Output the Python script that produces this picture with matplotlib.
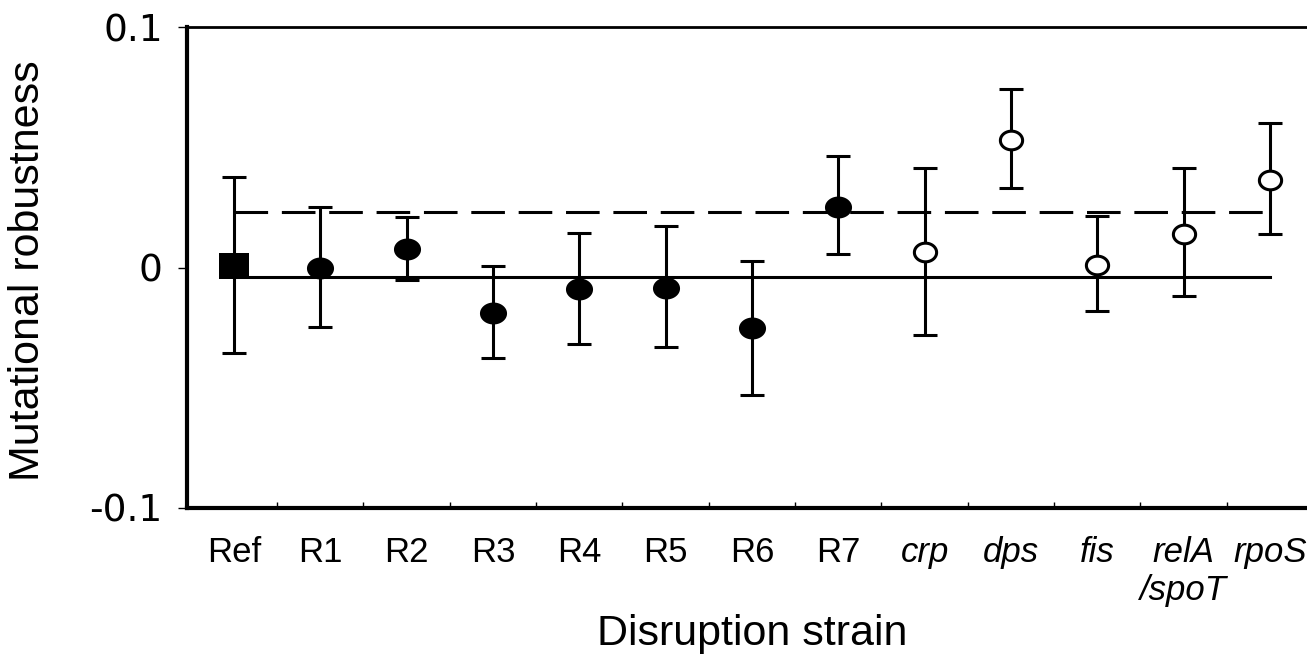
import numpy as np
from matplotlib import pyplot as plt
from matplotlib import rcParams
from matplotlib.path import Path

rcParams.update({
  'font.family': 'Liberation Sans',
  'axes.linewidth': 3,
  'axes.spines.right': False,
})

strains = ['Ref', 'R1', 'R2', 'R3', 'R4', 'R5', 'R6', 'R7',
           'crp', 'dps', 'fis', 'relA\n/spoT', 'rpoS']
groups = ['ref'] + ['random'] * 7 + ['gene'] * 5
robustness = [0.0005, -0.0004, 0.0075, -0.0188, -0.0091, -0.0084, -0.0253,
              0.0252, 0.0064, 0.0532, 0.0012, 0.0141, 0.0363]
upper = [0.0376, 0.0252, 0.0210, 0.0008, 0.0144, 0.0171, 0.0026,
         0.0463, 0.0413, 0.0743, 0.0213, 0.0415, 0.0599]
lower = [-0.0354, -0.0246, -0.0050, -0.0378, -0.0317, -0.0331, -0.0530,
         0.0058, -0.0280, 0.0330, -0.0179, -0.0119, 0.0141]
baseline = -0.004      # solid reference line
threshold = 0.023      # dashed line
y_ticks = [-0.1, 0, 0.1]
y_labels = ['-0.1', '0', '0.1']


def ellipse(ratio):
  t = np.linspace(0, 2 * np.pi, 80)
  return Path(np.column_stack([np.cos(t), ratio * np.sin(t)]), closed=True)


def box(ratio):
  return Path([(-1, -ratio), (1, -ratio), (1, ratio), (-1, ratio), (-1, -ratio)], closed=True)


x = np.arange(len(strains))
y = np.array(robustness)
yerr = [y - np.array(lower), np.array(upper) - y]

fig = plt.figure(figsize=(13.07, 6.55), dpi=100)
ax = fig.add_axes([187 / 1307, 147 / 655, 1 - 187 / 1307, 481 / 655])

ax.plot([x[0], x[-1]], [baseline, baseline], color='black', lw=2.2, zorder=1)
ax.plot([x[0], x[-1]], [threshold, threshold], color='black', lw=2.2,
        dashes=(11, 4.5), zorder=1)

ax.errorbar(x, y, yerr=yerr, fmt='none', ecolor='black', elinewidth=2.2,
            capsize=8.6, capthick=2.2, zorder=2)

g = np.array(groups)
ax.plot(x[g == 'ref'], y[g == 'ref'], linestyle='none', marker=box(0.86),
        ms=21, mfc='black', mec='black', mew=0, zorder=3)
ax.plot(x[g == 'random'], y[g == 'random'], linestyle='none', marker=ellipse(0.81),
        ms=19.5, mfc='black', mec='black', mew=0, zorder=3)
ax.plot(x[g == 'gene'], y[g == 'gene'], linestyle='none', marker=ellipse(0.84),
        ms=16, mfc='white', mec='black', mew=2.2, zorder=3)

ax.set_xlim((187 - 234) / 86.33, (1307 - 234) / 86.33)
ax.set_ylim(-0.1, 0.1)

ax.set_yticks(y_ticks)
ax.set_yticklabels(y_labels, fontfamily='DejaVu Sans', fontsize=27)
ax.tick_params(axis='y', direction='out', length=6.5, width=1, pad=11)

ax.set_xticks(x)
ax.set_xticklabels(strains, fontsize=25, linespacing=1.2)
for lab, grp in zip(ax.get_xticklabels(), groups):
  if grp == 'gene':
    lab.set_fontstyle('italic')
ax.tick_params(axis='x', which='major', length=0, pad=20)
ax.set_xticks(x[:-1] + 0.5, minor=True)
ax.tick_params(axis='x', which='minor', direction='in', length=4, width=1)

ax.spines['top'].set_linewidth(2)

fig.text(28 / 1307, 1 - 271 / 655, 'Mutational robustness', rotation=90,
         ha='center', va='center', fontsize=31)
fig.text(752 / 1307, 10 / 655, 'Disruption strain', ha='center', va='baseline',
         fontsize=31)

fig.savefig('out.png', dpi=100)
